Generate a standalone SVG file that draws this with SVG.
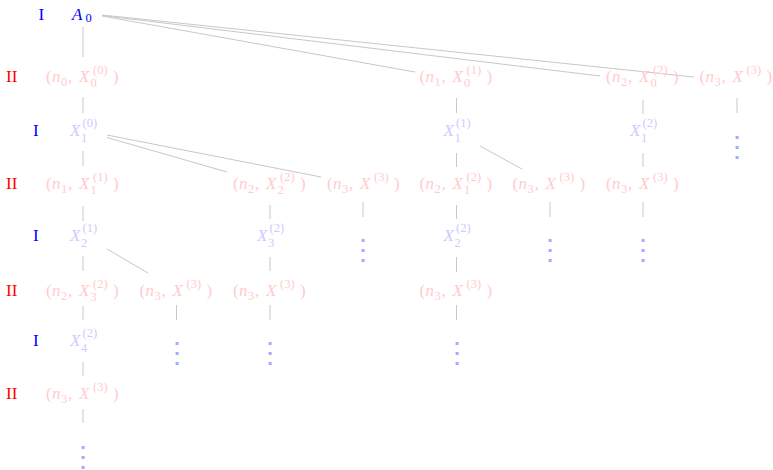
<svg xmlns="http://www.w3.org/2000/svg" width="773" height="470" viewBox="0 0 773 470">
<style>
text{font-family:"Liberation Serif","Times New Roman",serif;font-size:17px}
.i{font-style:italic}
.s{font-size:12.5px}
.r{fill:#ffcccc}
.b{fill:#ccccff}
.lb{fill:#0000ff}
.lr{fill:#ff0000}
.dc{fill:#a8a8ff;text-anchor:middle;font-family:"Noto Sans CJK JP",sans-serif;font-size:28px}
#edges line{stroke:#c8c8c8;stroke-width:1}
</style>
<rect width="773" height="470" fill="#ffffff"/>
<g id="labels">
<text class="lb" x="38.5" y="19.5">I</text>
<text class="lr" x="6" y="82">II</text>
<text class="lb" x="33" y="136">I</text>
<text class="lr" x="6" y="189">II</text>
<text class="lb" x="33" y="241">I</text>
<text class="lr" x="6" y="296">II</text>
<text class="lb" x="33" y="346">I</text>
<text class="lr" x="6" y="399">II</text>
</g>
<g id="edges">
<line x1="83" y1="27" x2="83" y2="57"/>
<line x1="102" y1="16" x2="415" y2="72"/>
<line x1="102" y1="15.5" x2="600" y2="76"/>
<line x1="102" y1="15" x2="694" y2="77"/>
<line x1="83" y1="97" x2="83" y2="113"/>
<line x1="456.5" y1="98" x2="456.5" y2="113"/>
<line x1="643" y1="100" x2="643" y2="114"/>
<line x1="737" y1="98" x2="737" y2="113"/>
<line x1="83" y1="151" x2="83" y2="166"/>
<line x1="456.5" y1="153" x2="456.5" y2="167"/>
<line x1="643" y1="153" x2="643" y2="167"/>
<line x1="107" y1="135" x2="321" y2="177"/>
<line x1="107" y1="137.5" x2="227" y2="172"/>
<line x1="480" y1="146" x2="522" y2="169"/>
<line x1="83" y1="206" x2="83" y2="221"/>
<line x1="270" y1="205" x2="270" y2="219"/>
<line x1="363" y1="202" x2="363" y2="217"/>
<line x1="456.5" y1="205" x2="456.5" y2="219"/>
<line x1="550" y1="202" x2="550" y2="217"/>
<line x1="643" y1="202" x2="643" y2="217"/>
<line x1="83" y1="256" x2="83" y2="271"/>
<line x1="270" y1="257" x2="270" y2="271"/>
<line x1="456.5" y1="257" x2="456.5" y2="272"/>
<line x1="107" y1="249" x2="148" y2="273"/>
<line x1="83" y1="306" x2="83" y2="320"/>
<line x1="176.5" y1="305" x2="176.5" y2="320"/>
<line x1="270" y1="305" x2="270" y2="320"/>
<line x1="456.5" y1="305" x2="456.5" y2="320"/>
<line x1="83" y1="362" x2="83" y2="376"/>
<line x1="83" y1="409" x2="83" y2="423"/>
</g>
<g id="A0"><text class="lb"><tspan class="i" x="72" y="19.5">A</tspan><tspan class="s" x="85.5" y="22">0</tspan></text></g>
<g id="p_n0_X0_0"><text class="r"><tspan x="46" y="82">(</tspan><tspan class="i" x="52" y="82">n</tspan><tspan class="s" x="61" y="86">0</tspan><tspan x="68" y="82">,</tspan><tspan class="i" x="79" y="82">X</tspan><tspan class="s" x="90.5" y="86.5">0</tspan><tspan class="s" x="93" y="74">(0)</tspan><tspan x="113" y="82">)</tspan></text></g>
<g id="p_n1_X0_1"><text class="r"><tspan x="419.5" y="82">(</tspan><tspan class="i" x="425.5" y="82">n</tspan><tspan class="s" x="434.5" y="86">1</tspan><tspan x="441.5" y="82">,</tspan><tspan class="i" x="452.5" y="82">X</tspan><tspan class="s" x="464" y="86.5">0</tspan><tspan class="s" x="466.5" y="74">(1)</tspan><tspan x="486.5" y="82">)</tspan></text></g>
<g id="p_n2_X0_2"><text class="r"><tspan x="606" y="82">(</tspan><tspan class="i" x="612" y="82">n</tspan><tspan class="s" x="621" y="86">2</tspan><tspan x="628" y="82">,</tspan><tspan class="i" x="639" y="82">X</tspan><tspan class="s" x="650.5" y="86.5">0</tspan><tspan class="s" x="653" y="74">(2)</tspan><tspan x="673" y="82">)</tspan></text></g>
<g id="p_n3_X3_r1"><text class="r"><tspan x="699.5" y="82">(</tspan><tspan class="i" x="705.5" y="82">n</tspan><tspan class="s" x="714.5" y="86">3</tspan><tspan x="721.5" y="82">,</tspan><tspan class="i" x="732.5" y="82">X</tspan><tspan class="s" x="746.5" y="74">(3)</tspan><tspan x="766.5" y="82">)</tspan></text></g>
<g id="x_X1_0"><text class="b"><tspan class="i" x="70" y="136">X</tspan><tspan class="s" x="81" y="141.5">1</tspan><tspan class="s" x="82.5" y="127">(0)</tspan></text></g>
<g id="x_X1_1"><text class="b"><tspan class="i" x="443.5" y="136">X</tspan><tspan class="s" x="454.5" y="141.5">1</tspan><tspan class="s" x="456" y="127">(1)</tspan></text></g>
<g id="x_X1_2"><text class="b"><tspan class="i" x="630" y="136">X</tspan><tspan class="s" x="641" y="141.5">1</tspan><tspan class="s" x="642.5" y="127">(2)</tspan></text></g>
<g id="dots_r2_h"><text class="dc" x="737" y="156.4">⋮</text></g>
<g id="p_n1_X1_1"><text class="r"><tspan x="46" y="189">(</tspan><tspan class="i" x="52" y="189">n</tspan><tspan class="s" x="61" y="193">1</tspan><tspan x="68" y="189">,</tspan><tspan class="i" x="79" y="189">X</tspan><tspan class="s" x="90.5" y="193.5">1</tspan><tspan class="s" x="93" y="181">(1)</tspan><tspan x="113" y="189">)</tspan></text></g>
<g id="p_n2_X2_2"><text class="r"><tspan x="233" y="189">(</tspan><tspan class="i" x="239" y="189">n</tspan><tspan class="s" x="248" y="193">2</tspan><tspan x="255" y="189">,</tspan><tspan class="i" x="266" y="189">X</tspan><tspan class="s" x="277.5" y="193.5">2</tspan><tspan class="s" x="280" y="181">(2)</tspan><tspan x="300" y="189">)</tspan></text></g>
<g id="p_n3_X3_r3d"><text class="r"><tspan x="327" y="189">(</tspan><tspan class="i" x="333" y="189">n</tspan><tspan class="s" x="342" y="193">3</tspan><tspan x="349" y="189">,</tspan><tspan class="i" x="360" y="189">X</tspan><tspan class="s" x="374" y="181">(3)</tspan><tspan x="394" y="189">)</tspan></text></g>
<g id="p_n2_X1_2"><text class="r"><tspan x="419.5" y="189">(</tspan><tspan class="i" x="425.5" y="189">n</tspan><tspan class="s" x="434.5" y="193">2</tspan><tspan x="441.5" y="189">,</tspan><tspan class="i" x="452.5" y="189">X</tspan><tspan class="s" x="464" y="193.5">1</tspan><tspan class="s" x="466.5" y="181">(2)</tspan><tspan x="486.5" y="189">)</tspan></text></g>
<g id="p_n3_X3_r3f"><text class="r"><tspan x="512.5" y="189">(</tspan><tspan class="i" x="518.5" y="189">n</tspan><tspan class="s" x="527.5" y="193">3</tspan><tspan x="534.5" y="189">,</tspan><tspan class="i" x="545.5" y="189">X</tspan><tspan class="s" x="559.5" y="181">(3)</tspan><tspan x="579.5" y="189">)</tspan></text></g>
<g id="p_n3_X3_r3g"><text class="r"><tspan x="606" y="189">(</tspan><tspan class="i" x="612" y="189">n</tspan><tspan class="s" x="621" y="193">3</tspan><tspan x="628" y="189">,</tspan><tspan class="i" x="639" y="189">X</tspan><tspan class="s" x="653" y="181">(3)</tspan><tspan x="673" y="189">)</tspan></text></g>
<g id="x_X2_1"><text class="b"><tspan class="i" x="70" y="241">X</tspan><tspan class="s" x="81" y="246.5">2</tspan><tspan class="s" x="82.5" y="232">(1)</tspan></text></g>
<g id="x_X3_2"><text class="b"><tspan class="i" x="257" y="241">X</tspan><tspan class="s" x="268" y="246.5">3</tspan><tspan class="s" x="269.5" y="232">(2)</tspan></text></g>
<g id="dots_r4_d"><text class="dc" x="363" y="259.4">⋮</text></g>
<g id="x_X2_2"><text class="b"><tspan class="i" x="443.5" y="241">X</tspan><tspan class="s" x="454.5" y="246.5">2</tspan><tspan class="s" x="456" y="232">(2)</tspan></text></g>
<g id="dots_r4_f"><text class="dc" x="550" y="259.4">⋮</text></g>
<g id="dots_r4_g"><text class="dc" x="643" y="259.4">⋮</text></g>
<g id="p_n2_X3_2"><text class="r"><tspan x="46" y="296">(</tspan><tspan class="i" x="52" y="296">n</tspan><tspan class="s" x="61" y="300">2</tspan><tspan x="68" y="296">,</tspan><tspan class="i" x="79" y="296">X</tspan><tspan class="s" x="90.5" y="300.5">3</tspan><tspan class="s" x="93" y="288">(2)</tspan><tspan x="113" y="296">)</tspan></text></g>
<g id="p_n3_X3_r5b"><text class="r"><tspan x="139.5" y="296">(</tspan><tspan class="i" x="145.5" y="296">n</tspan><tspan class="s" x="154.5" y="300">3</tspan><tspan x="161.5" y="296">,</tspan><tspan class="i" x="172.5" y="296">X</tspan><tspan class="s" x="186.5" y="288">(3)</tspan><tspan x="206.5" y="296">)</tspan></text></g>
<g id="p_n3_X3_r5c"><text class="r"><tspan x="233" y="296">(</tspan><tspan class="i" x="239" y="296">n</tspan><tspan class="s" x="248" y="300">3</tspan><tspan x="255" y="296">,</tspan><tspan class="i" x="266" y="296">X</tspan><tspan class="s" x="280" y="288">(3)</tspan><tspan x="300" y="296">)</tspan></text></g>
<g id="p_n3_X3_r5e"><text class="r"><tspan x="419.5" y="296">(</tspan><tspan class="i" x="425.5" y="296">n</tspan><tspan class="s" x="434.5" y="300">3</tspan><tspan x="441.5" y="296">,</tspan><tspan class="i" x="452.5" y="296">X</tspan><tspan class="s" x="466.5" y="288">(3)</tspan><tspan x="486.5" y="296">)</tspan></text></g>
<g id="x_X4_2"><text class="b"><tspan class="i" x="70" y="346">X</tspan><tspan class="s" x="81" y="351.5">4</tspan><tspan class="s" x="82.5" y="337">(2)</tspan></text></g>
<g id="dots_r6_b"><text class="dc" x="177" y="362.4">⋮</text></g>
<g id="dots_r6_c"><text class="dc" x="270" y="362.4">⋮</text></g>
<g id="dots_r6_e"><text class="dc" x="457" y="362.4">⋮</text></g>
<g id="p_n3_X3_r7"><text class="r"><tspan x="46" y="399">(</tspan><tspan class="i" x="52" y="399">n</tspan><tspan class="s" x="61" y="403">3</tspan><tspan x="68" y="399">,</tspan><tspan class="i" x="79" y="399">X</tspan><tspan class="s" x="93" y="391">(3)</tspan><tspan x="113" y="399">)</tspan></text></g>
<g id="dots_r8"><text class="dc" x="83" y="466.4">⋮</text></g>
</svg>
